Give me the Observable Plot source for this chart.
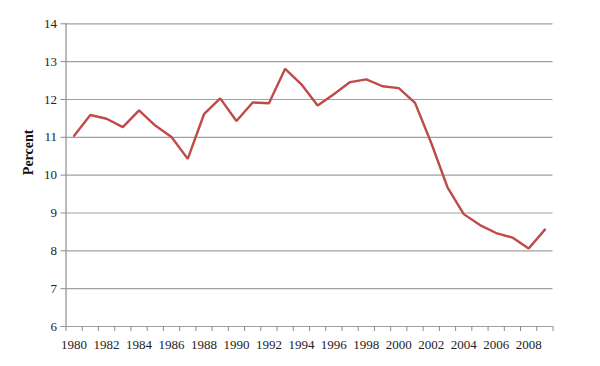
<!DOCTYPE html>
<html>
<head>
<meta charset="utf-8">
<script src="https://cdn.jsdelivr.net/npm/d3@7"></script>
<script src="https://cdn.jsdelivr.net/npm/@observablehq/plot@0.6"></script>
<style>
  html, body { margin: 0; padding: 0; background: #fff; }
  #chart svg { font-family: "Liberation Serif", "Times New Roman", serif; }
</style>
</head>
<body>
<div id="chart"></div>
<script>
const years = d3.range(1980, 2010);
const percent = [
  11.04, 11.59, 11.49, 11.27, 11.71, 11.31, 11.01, 10.43, 11.61, 12.03,
  11.43, 11.92, 11.90, 12.81, 12.40, 11.84, 12.14, 12.46, 12.53, 12.35,
  12.30, 11.91, 10.85, 9.68, 8.97, 8.68, 8.47, 8.35, 8.06, 8.56
];
const yTicks = [6, 7, 8, 9, 10, 11, 12, 13, 14];
const xLabels = [1980, 1982, 1984, 1986, 1988, 1990, 1992, 1994, 1996, 1998, 2000, 2002, 2004, 2006, 2008];
const yLabel = ["Percent"];

const data = years.map((y, i) => ({year: y, value: percent[i]}));
const xTickMarks = d3.range(years[0] - 0.5, years[years.length - 1] + 1, 1);

const chart = Plot.plot({
  width: 600,
  height: 366,
  marginLeft: 65.5,
  marginRight: 47.5,
  marginTop: 23.3,
  marginBottom: 40,
  style: {fontFamily: "'Liberation Serif', 'Times New Roman', serif", fontSize: "13px", color: "#222"},
  x: {domain: [years[0] - 0.5, years[years.length - 1] + 0.5]},
  y: {domain: [6, 14]},
  marks: [
    Plot.ruleY(yTicks, {stroke: "#a0a0a0", strokeWidth: 1.2}),
    Plot.ruleX([years[0] - 0.5], {y1: 6, y2: 14, stroke: "#8c8c8c", strokeWidth: 1.2}),
    Plot.axisY(yTicks, {tickSize: 5, tickPadding: 4, stroke: "#8c8c8c", label: null, fontSize: 13, fill: "#222"}),
    Plot.axisX(xTickMarks, {tickSize: 5, stroke: "#8c8c8c", text: null, label: null}),
    Plot.axisX(xLabels, {tickSize: 0, tickPadding: 13, tickFormat: d => String(d), label: null, fontSize: 13, fill: "#222"}),
    Plot.text(yLabel, {frameAnchor: "left", dx: -37, rotate: -90, fontWeight: "bold", fontSize: 14, fill: "#111"}),
    Plot.line(data, {x: "year", y: "value", stroke: "#be4b48", strokeWidth: 2.4, strokeLinejoin: "miter"})
  ]
});
document.getElementById("chart").appendChild(chart);
</script>
</body>
</html>
